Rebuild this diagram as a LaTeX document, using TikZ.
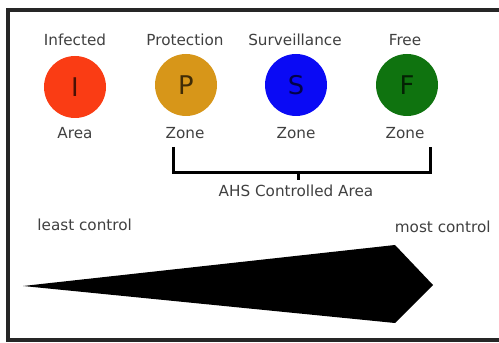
\documentclass[tikz,border=0pt]{standalone}
\usepackage{fontspec}
\setmainfont{DejaVu Sans}
\usepackage{xcolor}
\usepackage{tikz}
\usetikzlibrary{positioning,calc}
\definecolor{infred}{RGB}{250,60,20}
\definecolor{protgold}{RGB}{215,150,25}
\definecolor{survblue}{RGB}{10,10,245}
\definecolor{freegreen}{RGB}{15,115,15}
\tikzset{
  zonedot/.style={circle,minimum size=1.86cm,inner sep=0pt,
    font=\fontsize{22}{24}\selectfont,text=black,text opacity=0.7},
  zonelabel/.style={font=\fontsize{13}{15}\selectfont,text=black!75,inner sep=1pt},
  framebar/.style={line width=0.1cm,draw=black!85},
  bracketline/.style={line width=0.09cm,draw=black}
}
\begin{document}
\begin{tikzpicture}[x=0.03cm,y=-0.03cm]
  \useasboundingbox (0,0) rectangle (499,343);
  \draw[framebar] (499,10) -- (8,10) -- (8,340) -- (499,340);
  % zones
  \node[zonedot,fill=infred] (I) at (75,87) {I};
  \node[zonedot,fill=protgold] (P) at (186,85) {P};
  \node[zonedot,fill=survblue] (S) at (296,85) {S};
  \node[zonedot,fill=freegreen] (F) at (407,85) {F};
  \node[zonelabel] (Itop) at (75,40) {Infected};
  \node[zonelabel] (Ptop) at (185,40) {Protection};
  \node[zonelabel] (Stop) at (295,40) {Surveillance};
  \node[zonelabel] (Ftop) at (405,40) {Free};
  \node[zonelabel] (Ibot) at (75,133) {Area};
  \node[zonelabel] (Pbot) at (185,133) {Zone};
  \node[zonelabel] (Sbot) at (296,133) {Zone};
  \node[zonelabel] (Fbot) at (405,133) {Zone};
  % controlled area bracket
  \node[zonelabel] (ahs) at (296,191) {AHS Controlled Area};
  \coordinate (brL) at (173,147);
  \coordinate (brR) at (430,147);
  \draw[bracketline] (brL) -- (173,173) -- (430,173) -- (brR);
  \draw[bracketline] (298,173) -- (298,180);
  % control scale
  \node[zonelabel,anchor=west] (least) at (36,225) {least control};
  \node[zonelabel,anchor=east] (most) at (492,227) {most control};
  \fill[black] (23,286) -- (395,245) -- (433,285) -- (395,323) -- cycle;
\end{tikzpicture}
\end{document}
